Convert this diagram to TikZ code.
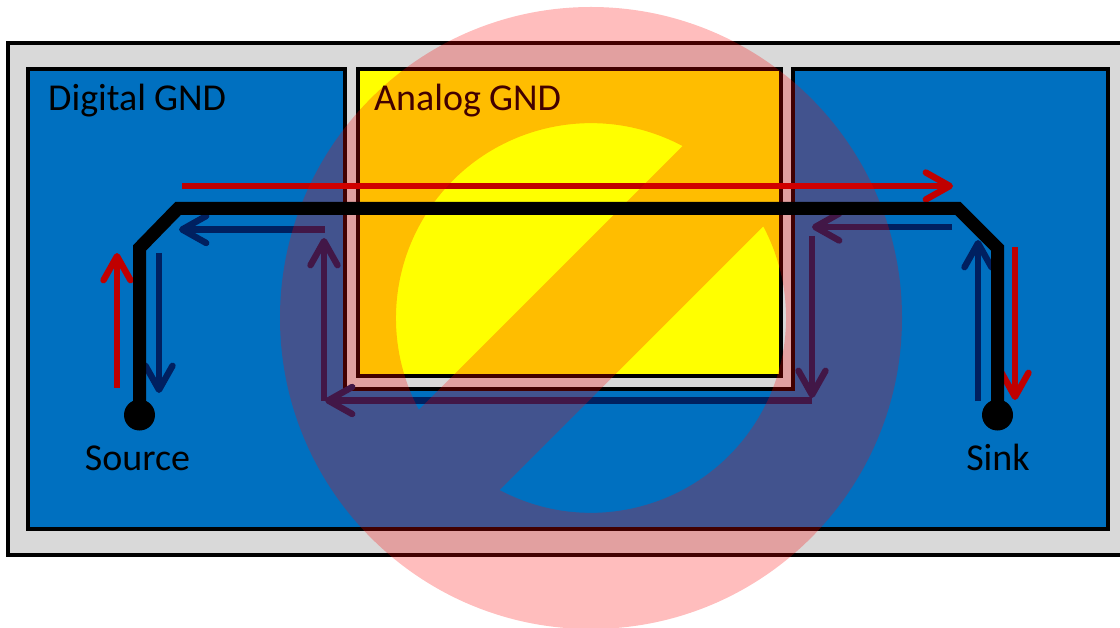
\documentclass[tikz,border=0pt]{standalone}
\usepackage{fontspec}
\setmainfont[WordSpace=0.95]{Carlito}
\usetikzlibrary{arrows.meta}
\definecolor{boardgray}{HTML}{D9D9D9}
\definecolor{planeblue}{HTML}{0070C0}
\definecolor{tracered}{HTML}{C00000}
\definecolor{tracenavy}{HTML}{002060}
\definecolor{puregold}{HTML}{FFFF00}
\definecolor{banred}{HTML}{FF0000}
\tikzset{
  board/.style={draw=black,line width=4bp,fill=boardgray},
  plane/.style={draw=black,line width=4bp,fill=planeblue,line join=miter},
  analog/.style={draw=black,line width=4bp,fill=puregold},
  lbl/.style={inner sep=0pt,font=\fontsize{38bp}{40bp}\selectfont,text=black},
  flow/.style={line width=6.4bp,-{Straight Barb[length=24bp,width=27bp,round]}},
  redflow/.style={flow,draw=tracered},
  navyflow/.style={flow,draw=tracenavy},
  ban/.style={fill=banred,fill opacity=.26,even odd rule},
  trace/.style={draw=black,line width=13bp,line join=miter},
  pad/.style={circle,fill=black,minimum size=31bp,inner sep=0pt}
}
\begin{document}
\begin{tikzpicture}[x=1bp,y=-1bp]
\clip (0,0) rectangle (1120,628);
\fill[white] (0,0) rectangle (1120,628);
\path[board] (8,43) rectangle (1140,555);
\path[plane] (28,69) -- (345,69) -- (345,389) -- (793,389) -- (793,69) -- (1108,69) -- (1108,529) -- (28,529) -- cycle;
\path[analog] (358,69) rectangle (780.5,375.5);
\node[lbl,anchor=base west] (dgnd) at (48,111) {Digital GND};
\node[lbl,anchor=base west] (agnd) at (374,111) {Analog GND};
\node[lbl,anchor=base] (srctxt) at (137.5,470) {Source};
\node[lbl,anchor=base] (snktxt) at (998,470) {Sink};
% named end points
\coordinate (r1a) at (182,186); \coordinate (r1b) at (953,186);
\coordinate (r2a) at (117,388); \coordinate (r2b) at (117,253);
\coordinate (r3a) at (1015,247); \coordinate (r3b) at (1015,400);
\coordinate (n1a) at (325,229.5); \coordinate (n1b) at (179,229.5);
\coordinate (n2a) at (159,253); \coordinate (n2b) at (159,393);
\coordinate (n3a) at (324,400.5); \coordinate (n3b) at (324,238);
\coordinate (n4a) at (812,400.5); \coordinate (n4b) at (325,400.5);
\coordinate (n5a) at (812,236); \coordinate (n5b) at (812,398);
\coordinate (n6a) at (952,227); \coordinate (n6b) at (812,227);
\coordinate (n7a) at (978,401); \coordinate (n7b) at (978,240);
\draw[redflow] (r1a) -- (r1b);
\draw[redflow] (r2a) -- (r2b);
\draw[redflow] (r3a) -- (r3b);
\draw[navyflow] (n1a) -- (n1b);
\draw[navyflow] (n2a) -- (n2b);
\draw[navyflow] (n3a) -- (n3b);
\draw[navyflow] (n4a) -- (n4b);
\draw[navyflow] (n5a) -- (n5b);
\draw[navyflow] (n6a) -- (n6b);
\draw[navyflow] (n7a) -- (n7b);
% prohibition sign
\path[ban] (591,318) circle[radius=311bp]
  (682.5,146) arc[start angle=62,end angle=208,radius=195bp] -- cycle
  (499.5,490) arc[start angle=-118,end angle=28,radius=195bp] -- cycle;
% trace
\node[pad] (src) at (139.5,415) {};
\node[pad] (snk) at (997.5,415) {};
\coordinate (b1) at (139.5,248); \coordinate (b2) at (178,208.5);
\coordinate (b3) at (958,208.5); \coordinate (b4) at (997.5,248);
\draw[trace] (src.center) -- (b1) -- (b2) -- (b3) -- (b4) -- (snk.center);
\end{tikzpicture}
\end{document}
